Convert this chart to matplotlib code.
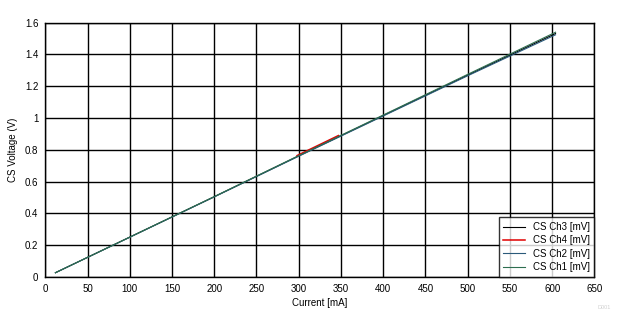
import matplotlib
matplotlib.use("Agg")
import matplotlib.pyplot as plt

# values
current_ma = [12, 100, 200, 300, 400, 500, 604]
ch1_v = [0.027, 0.251, 0.506, 0.764, 1.019, 1.275, 1.540]
ch2_v = [0.027, 0.250, 0.504, 0.760, 1.013, 1.266, 1.524]
ch3_v = [0.027, 0.251, 0.505, 0.762, 1.016, 1.270, 1.532]
ch4_current_ma = [298, 347]
ch4_v = [0.764, 0.890]

x_ticks = list(range(0, 651, 50))
y_ticks = [0, 0.2, 0.4, 0.6, 0.8, 1, 1.2, 1.4, 1.6]
y_labels = ["0", "0.2", "0.4", "0.6", "0.8", "1", "1.2", "1.4", "1.6"]

plt.rcParams["font.family"] = ["Liberation Sans", "DejaVu Sans"]

fig = plt.figure(figsize=(6.27, 3.29), dpi=100)
ax = fig.add_axes([0.0722, 0.158, 0.8758, 0.773])

ax.plot(current_ma, ch3_v, color="black", lw=0.8, label="CS Ch3 [mV]")
ax.plot(ch4_current_ma, ch4_v, color="#e00000", lw=1.1, label="CS Ch4 [mV]")
ax.plot(current_ma, ch2_v, color="#2a5a7a", lw=0.8, label="CS Ch2 [mV]")
ax.plot(current_ma, ch1_v, color="#2e6e50", lw=0.8, label="CS Ch1 [mV]")

ax.set_xlim(0, 650)
ax.set_ylim(0, 1.6)
ax.set_xticks(x_ticks)
ax.set_yticks(y_ticks)
ax.set_yticklabels(y_labels)
ax.grid(True, color="black", lw=1)
ax.set_axisbelow(True)
ax.tick_params(length=0, labelsize=7, pad=5)
for s in ax.spines.values():
    s.set_color("black")
    s.set_linewidth(1)

ax.set_xlabel("Current [mA]", fontsize=7, labelpad=3)
ax.set_ylabel("CS Voltage (V)", fontsize=7, labelpad=5)

leg = ax.legend(loc="lower right", fontsize=7, frameon=True, fancybox=False,
                borderaxespad=0, handlelength=2.2, labelspacing=0.35,
                borderpad=0.5)
leg.get_frame().set_edgecolor("black")
leg.get_frame().set_linewidth(1)

fig.text(0.975, 0.06, "D001", fontsize=4, color="#d0d0d0", ha="right")

fig.savefig("out.png", dpi=100)
